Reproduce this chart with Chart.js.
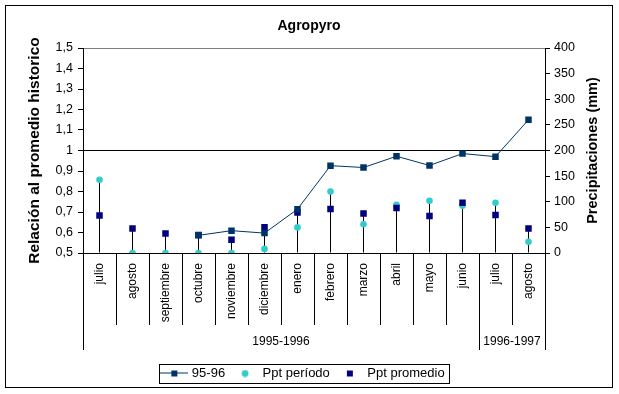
<!DOCTYPE html>
<html>
<head>
    <title>Agropyro</title>
    <script src="https://cdn.jsdelivr.net/npm/chart.js"></script>
    <style>
      body { margin: 0; background: #fff; }
      #frame { position: absolute; left: 5px; top: 5px; width: 606px; height: 381px; border: 1px solid #000; }
    </style>
</head>
<body>
    <div id="frame"><canvas id="chart"></canvas></div>

    <script>
    // months (category axis) and period groups
    const months = ['julio', 'agosto', 'septiembre', 'octubre', 'noviembre', 'diciembre',
                    'enero', 'febrero', 'marzo', 'abril', 'mayo', 'junio', 'julio', 'agosto'];
    const groupLabels = ['1995-1996', '1996-1997'];
    const groupSizes = [12, 2];

    // relation to historic average (left axis)
    const relacion9596 = [null, null, null, 0.586, 0.609, 0.597, 0.714, 0.926, 0.917, 0.972, 0.927, 0.985, 0.970, 1.150];
    // precipitation in mm (right axis)
    const pptPeriodo = [143, 0, 0, 0, 0, 8, 50, 120, 56, 94, 102, 92, 98, 22];
    const pptPromedio = [73, 48, 38, 35, 26, 50, 79, 86, 77, 88, 72, 98, 74, 48];

    // left / right axis ticks
    const relTicks = [0.5, 0.6, 0.7, 0.8, 0.9, 1, 1.1, 1.2, 1.3, 1.4, 1.5];
    const pptTicks = [0, 50, 100, 150, 200, 250, 300, 350, 400];

    // drop lines: from the highest precipitation mark down to the axis
    const dropLines = pptPeriodo.map((v, i) => [0, Math.max(v, pptPromedio[i])]);

    // group boundaries / centres for the second level of the category axis
    const bounds = [0];
    groupSizes.forEach(n => bounds.push(bounds[bounds.length - 1] + n));
    const centres = groupSizes.map((n, i) => bounds[i] + n / 2);

    const FONT = 'Liberation Sans, Arial, sans-serif';
    Chart.defaults.font.family = FONT;
    Chart.defaults.color = '#000';

    function icon(w, h, draw) {
      const c = document.createElement('canvas');
      c.width = w; c.height = h;
      draw(c.getContext('2d'));
      return c;
    }
    const legendIcons = [
      icon(28, 8, g => {
        g.fillStyle = '#003366';
        g.fillRect(0, 3, 28, 1);
        g.fillRect(11, 1, 6, 6);
      }),
      icon(8, 8, g => {
        g.fillStyle = '#33CCCC';
        g.beginPath(); g.arc(4, 4, 3.4, 0, Math.PI * 2); g.fill();
      }),
      icon(8, 8, g => {
        g.fillStyle = '#000080';
        g.fillRect(1, 1, 6, 6);
      })
    ];

    const extras = {
      id: 'extras',
      afterLayout(chart) {
        const lg = chart.legend;
        lg.left -= 5; lg.right -= 5;
        lg.top += 3; lg.bottom += 3;
      },
      afterDraw(chart) {
        const ctx = chart.ctx;
        // right axis title, reading bottom to top
        const s = chart.scales.y1;
        ctx.save();
        ctx.translate(s.right - 19, (s.top + s.bottom) / 2);
        ctx.rotate(-Math.PI / 2);
        ctx.font = 'bold 14.5px ' + FONT;
        ctx.fillStyle = '#000';
        ctx.textAlign = 'center';
        ctx.textBaseline = 'middle';
        ctx.fillText('Precipitaciones (mm)', 0, 0);
        ctx.restore();
        // legend border
        const hb = chart.legend.legendHitBoxes;
        if (hb && hb.length) {
          const l = Math.min(...hb.map(b => b.left)) - 4.5;
          const r = Math.max(...hb.map(b => b.left + b.width)) + 4.5;
          const t = Math.min(...hb.map(b => b.top)) - 3;
          const b2 = Math.max(...hb.map(b => b.top + b.height)) + 3;
          ctx.save();
          ctx.strokeStyle = '#000';
          ctx.lineWidth = 1;
          ctx.strokeRect(Math.round(l) + 0.5, Math.round(t) + 0.5, Math.round(r - l), Math.round(b2 - t));
          ctx.restore();
        }
      }
    };

    new Chart(document.getElementById('chart'), {
      data: {
        labels: months,
        datasets: [{
          type: 'line',
          label: '95-96',
          data: relacion9596,
          yAxisID: 'y',
          borderColor: '#003366',
          borderWidth: 1,
          backgroundColor: '#003366',
          pointStyle: 'rect',
          pointRadius: 4.6,
          pointBorderWidth: 0,
          tension: 0,
          spanGaps: false,
          order: 0
        }, {
          type: 'line',
          label: 'Ppt período',
          data: pptPeriodo,
          yAxisID: 'y1',
          showLine: false,
          backgroundColor: '#33CCCC',
          borderColor: '#33CCCC',
          pointStyle: 'circle',
          pointRadius: 3.3,
          pointBorderWidth: 0,
          order: 2
        }, {
          type: 'line',
          label: 'Ppt promedio',
          data: pptPromedio,
          yAxisID: 'y1',
          showLine: false,
          backgroundColor: '#000080',
          borderColor: '#000080',
          pointStyle: 'rect',
          pointRadius: 4.6,
          pointBorderWidth: 0,
          order: 1
        }, {
          type: 'bar',
          label: 'drop',
          data: dropLines,
          yAxisID: 'y1',
          backgroundColor: '#000',
          borderWidth: 0,
          barThickness: 1,
          inflateAmount: 0,
          order: 3
        }]
      },
      options: {
        responsive: true,
        maintainAspectRatio: false,
        animation: false,
        events: [],
        layout: { padding: { left: 0, right: 0, top: 0, bottom: 0 } },
        plugins: {
          title: {
            display: true, text: 'Agropyro', color: '#000',
            font: { size: 14, weight: 'bold' },
            padding: { top: 11.6, bottom: 13.6 }
          },
          tooltip: { enabled: false },
          legend: {
            position: 'bottom',
            labels: {
              usePointStyle: true,
              pointStyleWidth: 22,
              padding: 9,
              color: '#000',
              font: { size: 13 },
              generateLabels(chart) {
                const items = Chart.defaults.plugins.legend.labels.generateLabels(chart)
                  .filter(it => it.datasetIndex < 3)
                  .sort((a, b) => a.datasetIndex - b.datasetIndex);
                items.forEach(it => { it.pointStyle = legendIcons[it.datasetIndex]; });
                return items;
              }
            }
          }
        },
        scales: {
          x: {
            type: 'category',
            position: 'bottom',
            weight: 0,
            afterFit: s => { s.height = 72; },
            border: { color: '#000' },
            grid: { offset: true, drawOnChartArea: false, tickLength: 72, tickColor: '#000', color: '#000' },
            ticks: { autoSkip: false, minRotation: 90, maxRotation: 90, padding: -62, font: { size: 12 }, color: '#000' }
          },
          x2: {
            type: 'linear',
            position: 'bottom',
            weight: 1,
            min: bounds[0],
            max: bounds[bounds.length - 1],
            afterFit: s => { s.height = 30; },
            afterBuildTicks: s => {
              s.ticks = bounds.concat(centres).sort((a, b) => a - b).map(v => ({ value: v }));
            },
            border: { display: false },
            grid: {
              drawOnChartArea: false, tickLength: 25,
              tickColor: c => bounds.includes(c.tick.value) ? '#000' : 'rgba(0,0,0,0)'
            },
            ticks: {
              autoSkip: false, maxRotation: 0, padding: -16, font: { size: 12 }, color: '#000',
              callback: v => { const i = centres.indexOf(v); return i >= 0 ? groupLabels[i] : ''; }
            }
          },
          y: {
            position: 'left',
            min: relTicks[0],
            max: relTicks[relTicks.length - 1],
            afterFit: s => { s.width = 77; },
            afterBuildTicks: s => { s.ticks = relTicks.map(v => ({ value: v })); },
            border: { color: '#000' },
            grid: {
              tickLength: 5, tickColor: '#000',
              color: c => Math.abs(c.tick.value - 1) < 1e-6 ? '#000'
                : (Math.abs(c.tick.value - 1.5) < 1e-6 ? '#808080' : 'rgba(0,0,0,0)')
            },
            ticks: {
              padding: 5, font: { size: 12.5 }, color: '#000',
              callback: v => String(Number(v.toFixed(1))).replace('.', ',')
            },
            title: {
              display: true, text: 'Relación al promedio historico', color: '#000',
              font: { size: 15.5, weight: 'bold' },
              padding: { top: 19.7, bottom: 0 }
            }
          },
          y1: {
            position: 'right',
            min: pptTicks[0],
            max: pptTicks[pptTicks.length - 1],
            afterFit: s => { s.width = 67; },
            afterBuildTicks: s => { s.ticks = pptTicks.map(v => ({ value: v })); },
            border: { color: '#000' },
            grid: { drawOnChartArea: false, tickLength: 5, tickColor: '#000' },
            ticks: { padding: 4, font: { size: 12.5 }, color: '#000' }
          }
        }
      },
      plugins: [extras]
    });
    </script>
</body>
</html>
